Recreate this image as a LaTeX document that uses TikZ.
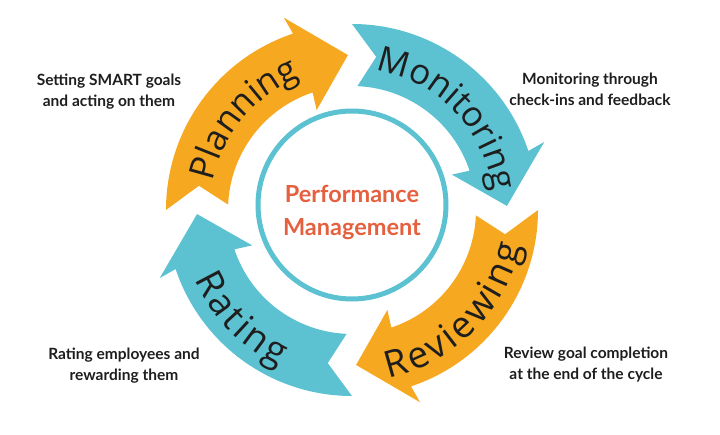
\documentclass[tikz,border=0pt]{standalone}
\usepackage{fontspec}
\setmainfont{Lato}
\newfontfamily\arcfont{Open Sans}
\usetikzlibrary{decorations.text}
\definecolor{orng}{HTML}{F6A821}
\definecolor{tealc}{HTML}{5CC1D1}
\definecolor{pmred}{HTML}{E5603E}
\definecolor{txt}{HTML}{1E1E1E}
\newcommand{\cycarrow}[2]{%
  \fill[#2] (#1:186) arc[start angle=#1, end angle=#1-71.5, radius=186]
    -- (#1-70.5:204) -- (#1-88.5:155) -- (#1-70.5:106) -- (#1-71.5:124)
    arc[start angle=#1-71.5, end angle=#1-2.5, radius=124]
    -- (#1-9:155) -- cycle;}
\tikzset{
  sidetext/.style={align=center, text=txt, font=\bfseries\fontsize{15.5}{21}\selectfont},
}
\begin{document}
\begin{tikzpicture}[x=1pt,y=1pt]
\useasboundingbox (-352,-224) rectangle (368,210);
% arrows
\cycarrow{180}{orng}
\cycarrow{90}{tealc}
\cycarrow{0}{orng}
\cycarrow{-90}{tealc}
% arc labels (upper: clockwise, lower: counter-clockwise)
\path[decorate, decoration={text along path, text align=center,
  text={|\arcfont\fontsize{35}{35}\selectfont\color{txt}|Planning}}]
  (180.5:142) arc[start angle=180.5, end angle=99.5, radius=142];
\path[decorate, decoration={text along path, text align=center,
  text={|\arcfont\fontsize{35}{35}\selectfont\color{txt}|Monitoring}}]
  (84.5:142) arc[start angle=84.5, end angle=3.5, radius=142];
\path[decorate, decoration={text along path, text align=center,
  text={|\arcfont\fontsize{37}{37}\selectfont\color{txt}|R{\kern3pt}e{\kern3pt}v{\kern3pt}i{\kern3pt}e{\kern3pt}w{\kern3pt}i{\kern3pt}n{\kern3pt}g}}]
  (270:172) arc[start angle=270, end angle=360, radius=172];
\path[decorate, decoration={text along path, text align=center,
  text={|\arcfont\fontsize{37}{37}\selectfont\color{txt}|R{\kern3pt}a{\kern3pt}t{\kern3pt}i{\kern3pt}n{\kern3pt}g}}]
  (180:172) arc[start angle=180, end angle=269, radius=172];
% centre circle
\node[circle, draw=tealc, line width=5pt, minimum size=188pt, inner sep=0pt] (ring) at (0,5) {};
\node[align=center, text=pmred, font=\bfseries\fontsize{23.5}{33}\selectfont] (pm) at (0,-2) {Performance\\Management};
% side texts
\node[sidetext] (t1) at (-243,118) {Setting SMART goals\\and acting on them};
\node[sidetext] (t2) at (238,121) {Monitoring through\\check-ins and feedback};
\node[sidetext] (t3) at (-228,-156) {Rating employees and\\rewarding them};
\node[sidetext] (t4) at (234,-155) {Review goal completion\\at the end of the cycle};
\end{tikzpicture}
\end{document}
